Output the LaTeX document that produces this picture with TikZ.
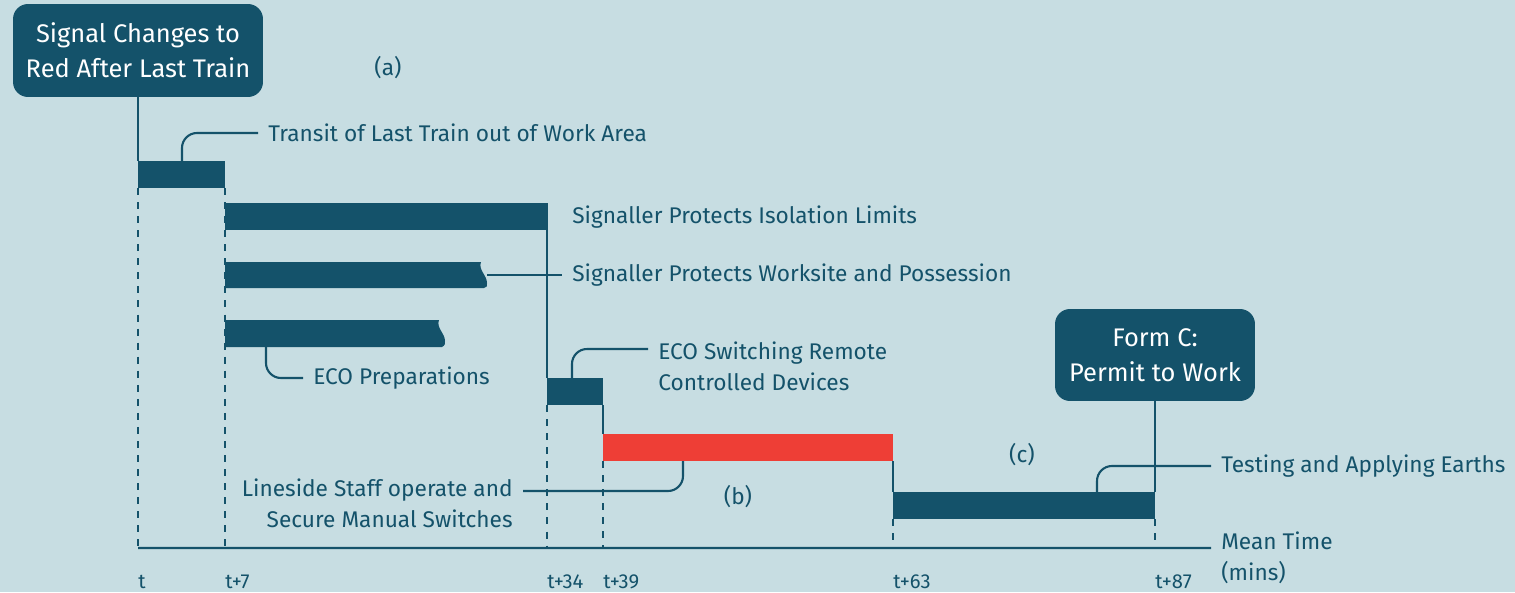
\documentclass[tikz,border=0pt]{standalone}
\usepackage{fontspec}
\setmainfont{Fira Sans}
\definecolor{bgblue}{RGB}{199,221,226}
\definecolor{rail}{RGB}{20,82,106}
\definecolor{alarm}{RGB}{238,62,54}
\tikzset{
  milestone/.style={fill=rail, text=white, rounded corners=0.3cm, align=center, inner sep=0,
    font=\fontsize{14.5}{20}\selectfont},
  lbl/.style={text=rail, inner xsep=0.2cm, inner ysep=0, font=\fontsize{12.9}{17.5}\selectfont},
  tick/.style={text=rail, inner sep=0, anchor=west, font=\fontsize{11.5}{12}\selectfont},
  leader/.style={draw=rail, line width=1.2pt, rounded corners=0.3cm},
  guide/.style={draw=rail, line width=1.3pt, dash pattern=on 4pt off 4pt},
  link/.style={draw=rail, line width=0.7pt},
  task/.style={fill=rail},
}
\begin{document}
\begin{tikzpicture}[x=0.02cm, y=-0.02cm]
\useasboundingbox[fill=bgblue] (0,0) rectangle (1515,592);
% milestones
\node[milestone, minimum width=5cm, minimum height=1.86cm] (signal) at (138,50.5) {Signal Changes to\\Red After Last Train};
\node[milestone, minimum width=4cm, minimum height=1.84cm] (formc) at (1155,355) {Form C:\\Permit to Work};
% guides
\draw[guide] (138,188) -- (138,548);
\draw[guide] (225,188) -- (225,548);
\draw[guide] (547,405) -- (547,548);
\draw[guide] (603,461) -- (603,548);
\draw[guide] (893,519) -- (893,548);
\draw[guide] (1155,519) -- (1155,548);
% tasks
\fill[task] (138,161) rectangle (225,188);
\fill[task] (225,203) rectangle (547,230);
\fill[task] (225,262) -- (481,262) .. controls (478,270) and (487,275) .. (487,283) .. controls (487,287) .. (484,288) -- (225,288) -- cycle;
\fill[task] (225,320) -- (439,320) .. controls (436,328) and (445,333) .. (445,341) .. controls (445,345) .. (442,347) -- (225,347) -- cycle;
\fill[task] (547,378) rectangle (603,405);
\fill[alarm] (603,434) rectangle (893,461);
\fill[task] (893,492) rectangle (1155,519);
% links between tasks
\coordinate (s1) at (138,161);
\coordinate (s2) at (547,203);
\coordinate (s5) at (547,378);
\coordinate (e5) at (603,405);
\coordinate (sr) at (603,434);
\coordinate (er) at (893,461);
\coordinate (s6) at (893,492);
\coordinate (e6) at (1155,492);
\draw[link] (signal.south) -- (s1);
\draw[link] (s2) -- (s5);
\draw[link] (e5) -- (sr);
\draw[link] (er) -- (s6);
\draw[link] (formc.south) -- (e6);
% labels
\node[lbl, anchor=west] (transit) at (258,133) {Transit of Last Train out of Work Area};
\node[lbl, anchor=west] (isolation) at (562,217) {Signaller Protects Isolation Limits};
\node[lbl, anchor=west] (worksite) at (562,275) {Signaller Protects Worksite and Possession};
\node[lbl, anchor=west] (prep) at (303,378) {ECO Preparations};
\node[lbl, anchor=west, align=left] (eco) at (648,366) {ECO Switching Remote\\Controlled Devices};
\node[lbl, anchor=east, align=right] (lineside) at (523,503.5) {Lineside Staff operate and\\Secure Manual Switches};
\node[lbl, anchor=west] (earths) at (1211,466) {Testing and Applying Earths};
\node[lbl, anchor=west, align=left] (mean) at (1211,558) {Mean Time\\(mins)};
\node[lbl] (pa) at (388,68) {(a)};
\node[lbl] (pb) at (738,497) {(b)};
\node[lbl] (pc) at (1022,455) {(c)};
% leaders
\coordinate (l1) at (182,161);
\coordinate (l3) at (487,275);
\coordinate (l4) at (266,347);
\coordinate (l5) at (572,378);
\coordinate (lr) at (683,461);
\coordinate (l6) at (1097,492);
\draw[leader] (l1) |- (transit.west);
\draw[leader] (l3) -- (worksite.west);
\draw[leader] (l4) |- (prep.west);
\draw[leader] (l5) |- ([yshift=0.34cm]eco.west);
\draw[leader] (lr) |- ([yshift=0.25cm]lineside.east);
\draw[leader] (l6) |- (earths.west);
% time axis
\coordinate (t0) at (138,548);
\draw[rail, line width=1.3pt] (t0) -- ([yshift=0.2cm]mean.west);
\node[tick] (tt) at (138,582) {t};
\node[tick] (t7) at (225,582) {t+7};
\node[tick] (t34) at (547,582) {t+34};
\node[tick] (t39) at (603,582) {t+39};
\node[tick] (t63) at (893,582) {t+63};
\node[tick] (t87) at (1155,582) {t+87};
\end{tikzpicture}
\end{document}
